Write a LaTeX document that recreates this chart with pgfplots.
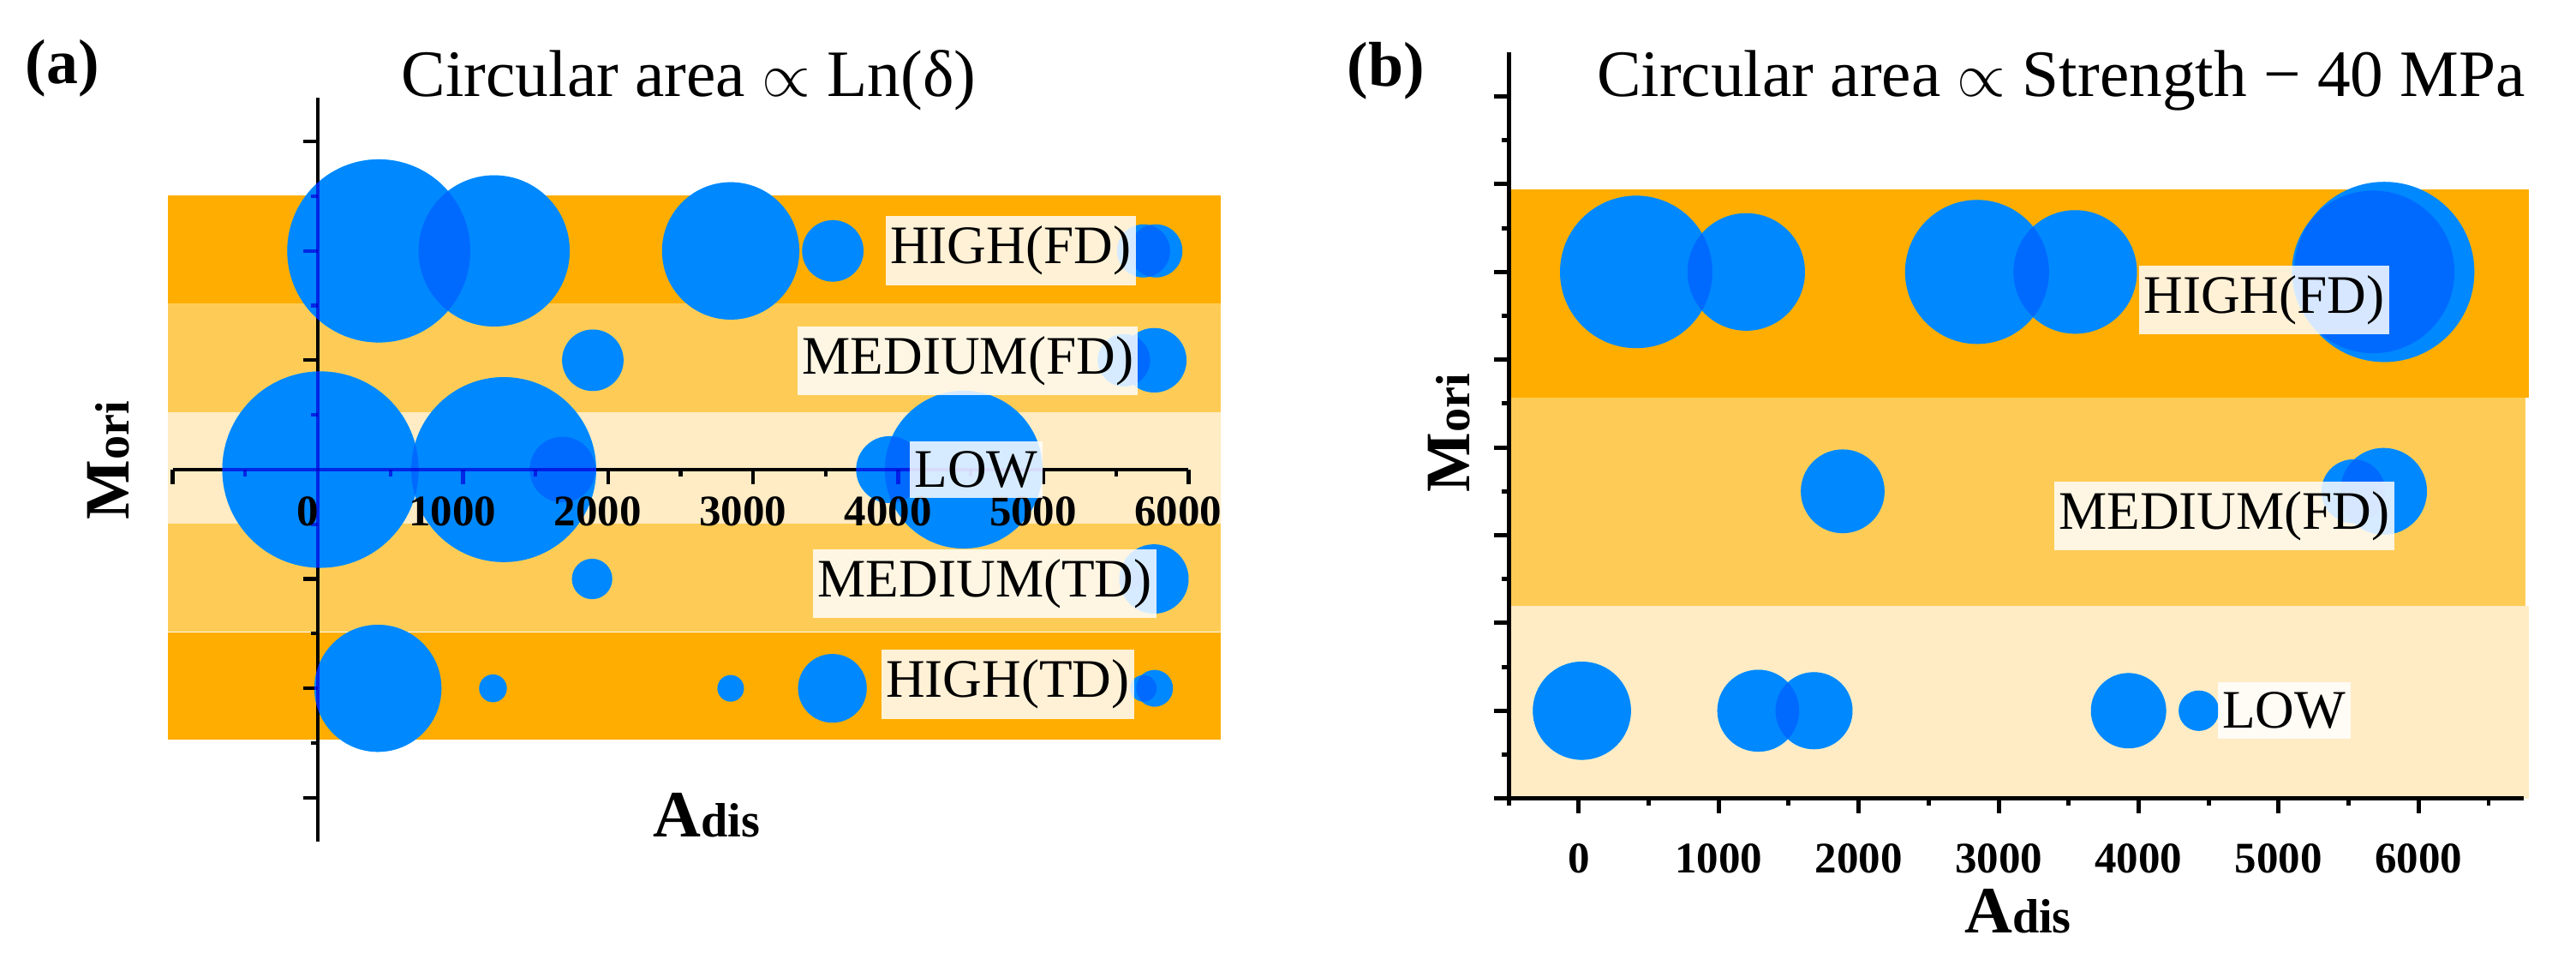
\documentclass[border=0pt]{standalone}
\usepackage{fontspec}
\setmainfont{Liberation Serif}
\usepackage{pgfplots}
\pgfplotsset{compat=1.18}
\usepackage{pgfplotstable}

\definecolor{bandhi}{RGB}{255,173,0}
\definecolor{bandmid}{RGB}{254,204,86}
\definecolor{bandlow}{RGB}{255,236,196}
\definecolor{bubbase}{RGB}{0,197,255}
\definecolor{bubtop}{RGB}{0,77,255}
\definecolor{linetint}{RGB}{0,74,230}

% x  y  r (mark radius, pt)
\pgfplotstableread{
x y r
420 2 30.4
1215 2 25.1
2845 2 22.8
3549 2 10.2
5690 2 8.8
5775 2 8.8
1895 1 10.2
5555 1 8.7
5764 1 10.7
18 0 32.6
1281 0 30.7
1686 0 10.9
3940 0 11.1
4451 0 26.2
1890 -1 6.7
5600 -1 3.6
5762 -1 11.5
414 -2 21.1
1207 -2 4.6
2845 -2 4.4
3546 -2 11.4
5689 -2 4.4
5766 -2 6.1
}\bubblesA

\pgfplotstableread{
x y r
411 3 25.3
1197 3 19.5
2846 3 23.9
3547 3 20.5
5676 3 27.0
5755 3 29.9
1886 2 13.9
5534 2 10.6
5750 2 14.4
23 1 16.3
1283 1 13.6
1681 1 12.8
3928 1 12.5
4430 1 6.7
}\bubblesB

\tikzset{
  lbl/.style={fill=white, fill opacity=0.84, text opacity=1,
    inner xsep=1.5pt, inner ysep=3.3pt, font=\fontsize{18}{18}\selectfont},
}

\pgfplotsset{
  bubble/.style 2 args={scatter, only marks, mark=*,
    visualization depends on={\thisrow{r}\as\rr},
    scatter/use mapped color={draw opacity=0, fill=#1, fill opacity=#2},
    scatter/@pre marker code/.append style={/tikz/mark size=\rr}},
  band/.style={draw=none, fill=#1, no markers, forget plot},
  geomA/.style={at={(2.016cm,1.292cm)}, anchor=south west, scale only axis,
    width=11.858cm, height=8.677cm, clip=false,
    xmin=-1000, xmax=6000, ymin=-3.4, ymax=3.4},
  geomB/.style={at={(17.611cm,1.793cm)}, anchor=south west, scale only axis,
    width=11.847cm, height=8.704cm, clip=false,
    xmin=-500, xmax=6750, ymin=0.6, ymax=4.0},
  ticksA/.style={axis lines*=middle,
    xtick={-1000,0,1000,...,6000}, xticklabels={},
    minor xtick={-500,500,1500,...,5500},
    ytick={-3,-2,-1,1,2,3}, yticklabels={},
    minor ytick={-2.5,-1.5,-0.5,0.5,1.5,2.5},
    tick align=outside, major tick length=0.17cm, minor tick length=0.085cm},
  ticklbl/.style={xticklabel style={font=\fontsize{14.5}{14.5}\selectfont\bfseries}},
}

\begin{document}
\begin{tikzpicture}
\path (0,0) rectangle (30.07cm,11.11cm);

% ---------- (a) ----------
\begin{axis}[geomA, hide axis]
\addplot[band=bandhi]  coordinates {(-1035,1.52) (6222,1.52) (6222,2.505) (-1035,2.505)};
\addplot[band=bandmid] coordinates {(-1035,0.525) (6222,0.525) (6222,1.52) (-1035,1.52)};
\addplot[band=bandlow] coordinates {(-1035,-0.494) (6222,-0.494) (6222,0.525) (-1035,0.525)};
\addplot[band=bandmid] coordinates {(-1035,-1.48) (6222,-1.48) (6222,-0.494) (-1035,-0.494)};
\addplot[band=bandhi]  coordinates {(-1035,-2.47) (6222,-2.47) (6222,-1.49) (-1035,-1.49)};
\end{axis}

\begin{axis}[geomA, ticksA,
  axis line style={black, line width=1.2pt},
  tick style={black, line width=1.2pt}]
\end{axis}

\begin{axis}[geomA, hide axis]
\addplot[bubble={bubbase}{1}]  table[x=x, y=y] {\bubblesA};
\addplot[bubble={bubtop}{0.5}] table[x=x, y=y] {\bubblesA};
\end{axis}

% axis lines showing through the bubbles
\begin{axis}[geomA, ticksA,
  axis line style={linetint, line width=1.2pt, blend mode=multiply},
  tick style={linetint, line width=1.2pt, blend mode=multiply}]
\end{axis}

\begin{axis}[geomA, ticklbl, axis lines*=middle,
  axis line style={draw=none}, tick style={draw=none},
  major tick length=0pt,
  xtick={0,1000,...,6000},
  xticklabels={0,1000,2000,3000,4000,5000,6000},
  ytick=\empty, hide obscured x ticks=false,
  xticklabel style={xshift=-0.12cm, yshift=-0.19cm},
]
\node[lbl] at (axis cs:4774,2.0)    {HIGH(FD)};
\node[lbl] at (axis cs:4480,0.995)  {MEDIUM(FD)};
\node[lbl] at (axis cs:4537,0.0)    {LOW};
\node[lbl] at (axis cs:4597,-1.041) {MEDIUM(TD)};
\node[lbl] at (axis cs:4754,-1.965) {HIGH(TD)};
\end{axis}

% ---------- (b) ----------
\begin{axis}[geomB, hide axis]
\addplot[band=bandhi]  coordinates {(-485,2.426) (6786,2.426) (6786,3.375) (-485,3.375)};
\addplot[band=bandmid] coordinates {(-485,1.478) (6765,1.478) (6765,2.426) (-485,2.426)};
\addplot[band=bandlow] coordinates {(-485,0.6) (6786,0.6) (6786,1.478) (-485,1.478)};
\end{axis}

\begin{axis}[geomB, ticklbl,
  axis x line*=bottom, axis y line*=left,
  xtick={0,1000,...,6000},
  xticklabels={0,1000,2000,3000,4000,5000,6000},
  minor xtick={-500,500,1500,...,6500},
  ytick={0.6,1,1.4,1.8,2.2,2.6,3,3.4,3.8}, yticklabels={},
  minor ytick={0.8,1.2,1.6,2,2.4,2.8,3.2,3.6},
  tick align=outside, major tick length=0.17cm, minor tick length=0.085cm,
  xticklabel style={yshift=-0.23cm},
  axis line style={black, line width=1.4pt},
  tick style={black, line width=1.4pt},
]
\end{axis}

\begin{axis}[geomB, hide axis]
\addplot[bubble={bubbase}{1}]  table[x=x, y=y] {\bubblesB};
\addplot[bubble={bubtop}{0.5}] table[x=x, y=y] {\bubblesB};
\end{axis}

\begin{axis}[geomB, hide axis]
\node[lbl] at (axis cs:4897,2.873)  {HIGH(FD)};
\node[lbl] at (axis cs:4612,1.8875) {MEDIUM(FD)};
\node[lbl] at (axis cs:5039,1.0)    {LOW};
\end{axis}

% titles, panel letters, axis names
\node[anchor=base] at (8.04cm,9.98cm) {\fontsize{22}{24}\selectfont Circular area $\propto$ Ln(δ)};
\node[anchor=base] at (24.06cm,9.98cm) {\fontsize{22}{24}\selectfont Circular area $\propto$ Strength − 40 MPa};
\node[anchor=base west, inner sep=0pt] at (0.29cm,10.13cm) {\fontsize{21}{24}\selectfont\bfseries (a)};
\node[anchor=base west, inner sep=0pt] at (15.72cm,10.10cm) {\fontsize{21}{24}\selectfont\bfseries (b)};
\node[rotate=90, anchor=base, inner sep=0pt] at (1.50cm,5.74cm)
  {\bfseries\fontsize{21}{24}\selectfont M\fontsize{16}{18}\selectfont ori};
\node[rotate=90, anchor=base, inner sep=0pt] at (17.157cm,6.06cm)
  {\bfseries\fontsize{21}{24}\selectfont M\fontsize{16}{18}\selectfont ori};
\node[anchor=base, inner sep=0pt] at (8.25cm,1.343cm)
  {\bfseries\fontsize{22}{24}\selectfont A\fontsize{16}{18}\selectfont dis};
\node[anchor=base, inner sep=0pt] at (23.555cm,0.222cm)
  {\bfseries\fontsize{22}{24}\selectfont A\fontsize{16}{18}\selectfont dis};
\end{tikzpicture}
\end{document}
